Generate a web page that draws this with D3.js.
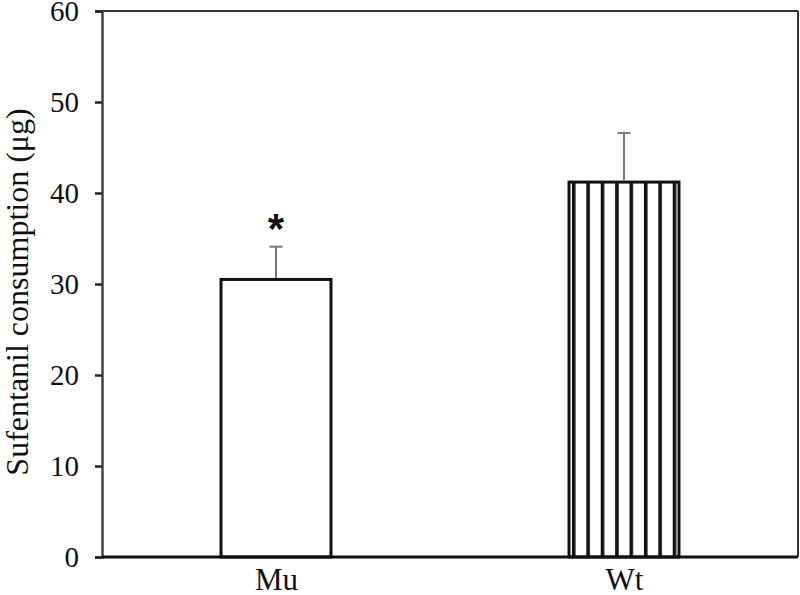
<!DOCTYPE html>
<html>
<head>
<meta charset="utf-8">
<script src="https://cdn.jsdelivr.net/npm/d3@7"></script>
<style>
  body { margin: 0; background: #fff; }
  text { font-family: "Liberation Serif", "Times New Roman", serif; }
</style>
</head>
<body>
<script>
var categories = ["Mu", "Wt"];
var means = [30.5, 41.2];
var errors = [3.6, 5.4];
var stars = ["*", ""];
var yTicks = [0, 10, 20, 30, 40, 50, 60];
var yTitle = "Sufentanil consumption (\u03bcg)";

var w = 800, h = 595;
var plotL = 102, plotR = 798, plotT = 11, plotB = 557;

var svg = d3.select("body").append("svg").attr("width", w).attr("height", h);

var y = d3.scaleLinear().domain([0, 60]).range([plotB, plotT]);
var x = d3.scalePoint().domain(categories).range([plotL, plotR]).padding(0.5);
var barW = x.step() * 0.316;

// stripe pattern for Wt
var defs = svg.append("defs");
var pat = defs.append("pattern").attr("id", "stripes")
  .attr("patternUnits", "userSpaceOnUse")
  .attr("width", 14.4).attr("height", 10)
  .attr("x", x("Wt") - barW / 2 + 2.9);
pat.append("rect").attr("width", 14.4).attr("height", 10).attr("fill", "#fff");
pat.append("rect").attr("x", 0).attr("width", 3.6).attr("height", 10).attr("fill", "#111");

// frame
svg.append("line").attr("x1", plotL).attr("x2", plotR).attr("y1", plotT).attr("y2", plotT)
  .attr("stroke", "#333").attr("stroke-width", 2);
svg.append("line").attr("x1", plotR).attr("x2", plotR).attr("y1", plotT).attr("y2", plotB)
  .attr("stroke", "#333").attr("stroke-width", 2);

// bars
svg.selectAll(".bar").data(categories).enter().append("rect")
  .attr("x", function(d){ return x(d) - barW / 2; })
  .attr("y", function(d, i){ return y(means[i]); })
  .attr("width", barW)
  .attr("height", function(d, i){ return y(0) - y(means[i]); })
  .attr("fill", function(d, i){ return i == 1 ? "url(#stripes)" : "#fff"; })
  .attr("stroke", "#111").attr("stroke-width", 3);

// error bars
svg.selectAll(".err").data(categories).enter().append("line")
  .attr("x1", function(d){ return x(d); }).attr("x2", function(d){ return x(d); })
  .attr("y1", function(d, i){ return y(means[i]) - 1.5; })
  .attr("y2", function(d, i){ return y(means[i] + errors[i]); })
  .attr("stroke", "#777").attr("stroke-width", 2);
svg.selectAll(".cap").data(categories).enter().append("line")
  .attr("x1", function(d){ return x(d) - 6.5; }).attr("x2", function(d){ return x(d) + 6.5; })
  .attr("y1", function(d, i){ return y(means[i] + errors[i]); })
  .attr("y2", function(d, i){ return y(means[i] + errors[i]); })
  .attr("stroke", "#777").attr("stroke-width", 2);

// significance marker
svg.selectAll(".star").data(categories).enter().append("text")
  .attr("x", function(d){ return x(d); })
  .attr("y", function(d, i){ return y(means[i] + errors[i]) - 4; })
  .attr("text-anchor", "middle")
  .style("font-family", "'Liberation Sans', Arial, sans-serif")
  .style("font-size", "42px").style("font-weight", "bold")
  .attr("fill", "#111")
  .text(function(d, i){ return stars[i]; });

// y axis
var yAxis = svg.append("g").attr("transform", "translate(" + plotL + ",0)")
  .call(d3.axisLeft(y).tickValues(yTicks).tickSize(7).tickPadding(16));
yAxis.select(".domain").attr("stroke", "#444").attr("stroke-width", 2.5);
yAxis.selectAll(".tick line").attr("stroke", "#222").attr("stroke-width", 2.5);
yAxis.selectAll("text").attr("fill", "#111")
  .style("font-family", "'Liberation Serif', serif").style("font-size", "29px");

// x axis
var xAxis = svg.append("g").attr("transform", "translate(0," + plotB + ")")
  .call(d3.axisBottom(x).tickSize(0).tickPadding(11));
xAxis.select(".domain").attr("stroke", "#111").attr("stroke-width", 3)
  .attr("d", "M" + plotL + ",0H" + plotR);
xAxis.selectAll("text").attr("fill", "#111")
  .style("font-family", "'Liberation Serif', serif").style("font-size", "31px");

// y title
svg.append("text")
  .attr("transform", "translate(28,292) rotate(-90)")
  .attr("text-anchor", "middle")
  .attr("fill", "#111")
  .style("font-size", "32px")
  .text(yTitle);
</script>
</body>
</html>
